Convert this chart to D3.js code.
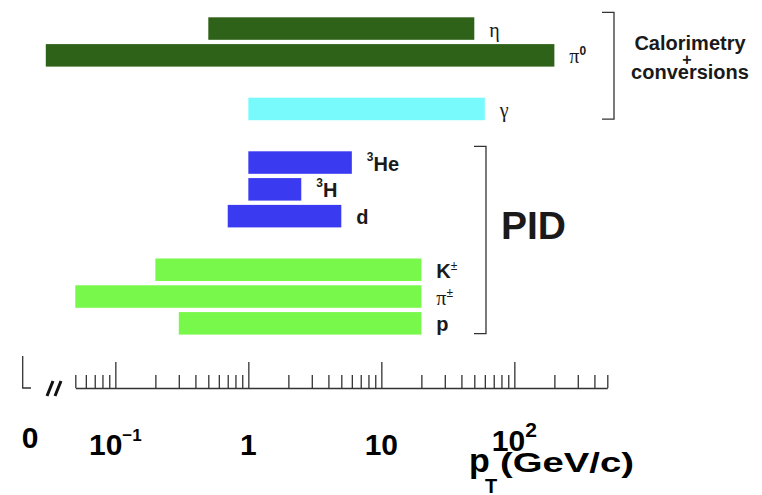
<!DOCTYPE html>
<html>
<head>
<meta charset="utf-8">
<script src="https://cdnjs.cloudflare.com/ajax/libs/d3/7.8.5/d3.min.js"></script>
<style>
	body { margin: 0; background: #fff; }
	svg { display: block; }
</style>
</head>
<body>
<div id="chart"></div>
<script>
/* global d3 */

// rows of the chart, top to bottom ("gap" rows are left empty)
var rows = ["eta", "pi0", "gap1", "gamma", "gap2", "He3", "H3", "d", "gap3", "K", "pi", "p"];

// particles and their pT reach (GeV/c)
var particles = ["eta", "pi0", "gamma", "He3", "H3", "d", "K", "pi", "p"];
var ptMin = [0.5, 0.03, 1, 1, 1, 0.7, 0.2, 0.05, 0.3];
var ptMax = [50, 200, 60, 6, 2.5, 5, 20, 20, 20];
var kinds = ["meson", "meson", "photon", "nucleus", "nucleus", "nucleus", "hadron", "hadron", "hadron"];
var method = ["calo", "calo", "calo", "pid", "pid", "pid", "pid", "pid", "pid"];

// labels of the bars
var labelPre = ["", "", "", "3", "3", "", "", "", ""];
var labelMain = ["\u03b7", "\u03c0", "\u03b3", "He", "H", "d", "K", "\u03c0", "p"];
var labelSup = ["", "0", "", "", "", "", "\u00b1", "\u00b1", ""];
var labelSerif = [true, true, true, false, false, false, false, true, false];

// axis
var majorTicks = [0.1, 1, 10, 100];
var tickBase = ["10", "1", "10", "10"];
var tickExp = ["\u22121", "", "", "2"];

var width = 762,
	height = 495,
	sans = "'Liberation Sans', Arial, Helvetica, sans-serif",
	serif = "'Liberation Serif', 'Times New Roman', serif",
	ink = "#1a1a1a",
	axisY = 388;

var svg = d3.select("#chart")
	.append("svg")
	.attr("width", width)
	.attr("height", height);

var x = d3.scaleLog()
	.domain([0.05, 500])
	.range([75.3, 607.3]);

var y = d3.scaleBand()
	.domain(rows)
	.range([17.3, 334.6])
	.paddingInner(0.16)
	.paddingOuter(0);

var color = d3.scaleOrdinal()
	.domain(["meson", "photon", "nucleus", "hadron"])
	.range(["#2f6219", "#78fafc", "#3a3af0", "#77f84b"]);

var bars = particles.map(function(p, i){
	return {name: p, lo: ptMin[i], hi: ptMax[i], kind: kinds[i], method: method[i],
		pre: labelPre[i], main: labelMain[i], sup: labelSup[i], serif: labelSerif[i]};
});

// bars
svg.append("g")
	.selectAll("rect")
	.data(bars)
	.enter().append("rect")
	.attr("x", function(d){ return x(d.lo); })
	.attr("y", function(d){ return y(d.name); })
	.attr("width", function(d){ return x(d.hi) - x(d.lo); })
	.attr("height", y.bandwidth())
	.style("fill", function(d){ return color(d.kind); });

// bar labels
var lab = svg.append("g")
	.selectAll("text")
	.data(bars)
	.enter().append("text")
	.attr("x", function(d){ return x(d.hi) + 15; })
	.attr("y", function(d){ return y(d.name) + y.bandwidth() / 2 + 8; })
	.style("fill", ink);

lab.each(function(d){
	var t = d3.select(this);
	if (d.pre) {
		t.append("tspan").text(d.pre)
			.attr("font-family", sans).attr("font-weight", "bold")
			.attr("font-size", 12).attr("dy", -10);
	}
	t.append("tspan").text(d.main)
		.attr("font-family", d.serif ? serif : sans)
		.attr("font-weight", d.serif ? "normal" : "bold")
		.attr("font-size", 20)
		.attr("dy", d.pre ? 10 : 0);
	if (d.sup) {
		t.append("tspan").text(d.sup)
			.attr("font-family", sans)
			.attr("font-weight", d.sup === "0" ? "bold" : "normal")
			.attr("font-size", 12).attr("dy", -8);
	}
});

// brackets
function bracket(name, bx){
	var sel = bars.filter(function(d){ return d.method === name; });
	var top = y(sel[0].name) - 5,
		bottom = y(sel[sel.length - 1].name) + y.bandwidth() - 1;
	svg.append("path")
		.attr("d", "M" + (bx - 12) + "," + top + "H" + bx + "V" + bottom + "H" + (bx - 12))
		.style("fill", "none")
		.style("stroke", "#333")
		.style("stroke-width", 1.3);
}
bracket("calo", 614);
bracket("pid", 486);

var calo = svg.append("text")
	.attr("text-anchor", "middle")
	.attr("font-family", sans)
	.attr("font-weight", "bold")
	.style("fill", ink);
calo.append("tspan").attr("x", 690).attr("y", 50).attr("font-size", 20).text("Calorimetry");
calo.append("tspan").attr("x", 687).attr("y", 65).attr("font-size", 16).text("+");
calo.append("tspan").attr("x", 690).attr("y", 79).attr("font-size", 20).text("conversions");

svg.append("text")
	.attr("x", 501)
	.attr("y", 239)
	.attr("font-family", sans)
	.attr("font-weight", "bold")
	.attr("font-size", 39)
	.style("fill", ink)
	.text("PID");

// log axis: long major ticks, short minor ticks
var minor = x.ticks().filter(function(v){ return majorTicks.indexOf(+v.toPrecision(3)) < 0; });

svg.append("g")
	.attr("transform", "translate(0," + axisY + ")")
	.call(d3.axisTop(x).tickValues(minor).tickSize(13).tickSizeOuter(0).tickFormat(""));
var axisMajor = svg.append("g")
	.attr("transform", "translate(0," + axisY + ")")
	.call(d3.axisTop(x).tickValues(majorTicks).tickSize(26).tickSizeOuter(0).tickFormat(""));
axisMajor.select(".domain").remove();
svg.selectAll(".tick line, .domain")
	.style("stroke", "#333")
	.style("stroke-width", 1.3);

// zero marker and axis break
svg.append("path")
	.attr("d", "M22.7,356V" + axisY + "H31")
	.style("fill", "none")
	.style("stroke", "#333")
	.style("stroke-width", 1.3);
svg.append("g")
	.selectAll("line")
	.data([0, 8])
	.enter().append("line")
	.attr("x1", function(d){ return 47 + d; })
	.attr("y1", 396)
	.attr("x2", function(d){ return 53 + d; })
	.attr("y2", 381)
	.style("stroke", "#111")
	.style("stroke-width", 3);

// tick labels
var tl = svg.append("g")
	.selectAll("text")
	.data(majorTicks)
	.enter().append("text")
	.attr("x", function(d){ return x(d); })
	.attr("y", function(d, i){ return i === 3 ? 451 : 455; })
	.attr("text-anchor", "middle")
	.attr("font-family", sans)
	.attr("font-weight", "bold")
	.attr("font-size", 30)
	.style("fill", "#000");
tl.append("tspan").text(function(d, i){ return tickBase[i]; });
tl.filter(function(d, i){ return tickExp[i] !== ""; })
	.append("tspan")
	.attr("font-size", function(d){ return d < 1 ? 17 : 21; })
	.attr("dy", -14)
	.text(function(d){ return tickExp[majorTicks.indexOf(d)]; });

svg.append("text")
	.attr("x", 30)
	.attr("y", 448)
	.attr("text-anchor", "middle")
	.attr("font-family", sans)
	.attr("font-weight", "bold")
	.attr("font-size", 30)
	.style("fill", "#000")
	.text("0");

// axis title
var title = svg.append("g")
	.attr("font-family", sans)
	.attr("font-weight", "bold")
	.style("fill", "#000");
title.append("text").attr("x", 469).attr("y", 472).attr("font-size", 34).text("p");
title.append("text").attr("x", 485).attr("y", 493).attr("font-size", 20).text("T");
title.append("text").attr("x", 500).attr("y", 472).attr("font-size", 28)
	.attr("textLength", 134).attr("lengthAdjust", "spacingAndGlyphs")
	.text("(GeV/c)");
</script>
</body>
</html>
